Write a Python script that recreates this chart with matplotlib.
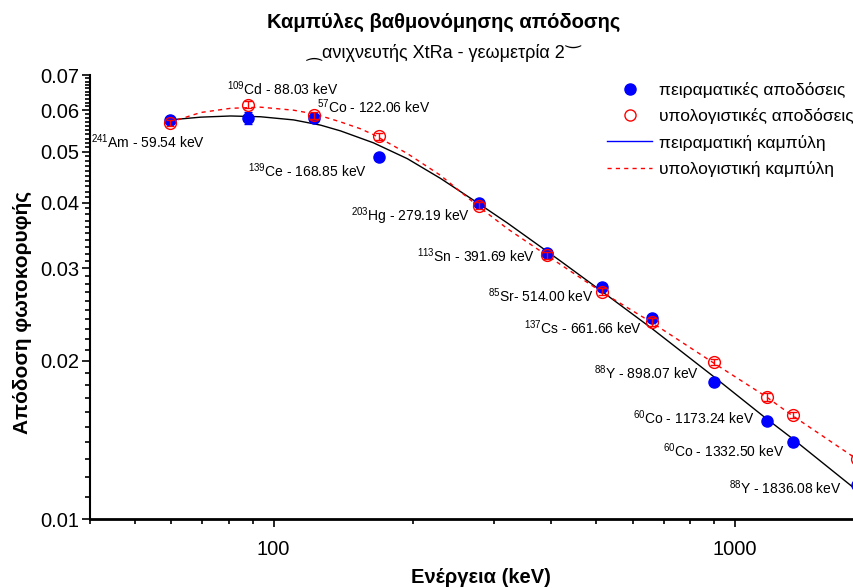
import matplotlib
matplotlib.use('Agg')
import matplotlib.pyplot as plt
import matplotlib.ticker as mticker
from matplotlib.lines import Line2D

plt.rcParams['font.family'] = ['Liberation Sans', 'DejaVu Sans']
plt.rcParams['mathtext.fontset'] = 'custom'
plt.rcParams['mathtext.rm'] = 'Liberation Sans'
plt.rcParams['mathtext.default'] = 'regular'

# energies (keV) and peak efficiencies
energy = [59.54, 88.03, 122.06, 168.85, 279.19, 391.69, 514.00, 661.66, 898.07, 1173.24, 1332.50, 1836.08]
eff_exp = [0.0575, 0.0579, 0.0581, 0.0489, 0.0399, 0.0321, 0.0276, 0.0241, 0.0182, 0.0154, 0.0140, 0.0116]
err_exp = [0.0004, 0.0015, 0.0005, 0.0004, 0.0003, 0.0003, 0.0003, 0.0002, 0.0002, 0.0002, 0.0002, 0.0002]
eff_calc = [0.0567, 0.0615, 0.0587, 0.0535, 0.0395, 0.0318, 0.0271, 0.0237, 0.0199, 0.0171, 0.0158, 0.0130]
err_calc = [0.0008, 0.0009, 0.0009, 0.0008, 0.0006, 0.0005, 0.0004, 0.0004, 0.0003, 0.0003, 0.0002, 0.0002]
isotopes = ['241', '109', '57', '139', '203', '113', '85', '137', '88', '60', '60', '88']
elements = ['Am', 'Cd', 'Co', 'Ce', 'Hg', 'Sn', 'Sr', 'Cs', 'Y', 'Co', 'Co', 'Y']
label_energy = ['59.54', '88.03', '122.06', '168.85', '279.19', '391.69', '514.00', '661.66',
                '898.07', '1173.24', '1332.50', '1836.08']
# label offsets from each point (pixels)
label_dx = [-79, -21, 3, -131, -128, -130, -114, -128, -120, -134, -130, -128]
label_dy = [-22, 30, 11, -14, -13, -3, -8, -9, 10, 3, -8, -3]

# fitted curves
curve_e_exp = [59.54, 69.5, 80.7, 93.7, 110.5, 126.4, 139.6, 164.6, 195.0, 229.9, 276.4, 321.0,
               378.5, 418.0, 512.1, 658.0, 896.3, 1161, 1335, 1800, 1836]
curve_exp = [0.0575, 0.0582, 0.0585, 0.0583, 0.0575, 0.0562, 0.0548, 0.0520, 0.0485, 0.0445, 0.0400,
             0.0366, 0.0330, 0.0310, 0.0272, 0.0231, 0.0187, 0.0156, 0.0142, 0.0115, 0.0113]
curve_e_calc = [59.54, 69.5, 80.7, 93.7, 110.5, 121.5, 130.9, 139.6, 154.3, 164.6, 195.0, 229.9,
                276.4, 321.0, 389.9, 512.1, 658.0, 891.8, 1167, 1322, 1836]
curve_calc = [0.0569, 0.0594, 0.0605, 0.0608, 0.0600, 0.0591, 0.0580, 0.0570, 0.0553, 0.0539, 0.0496,
              0.0451, 0.0395, 0.0357, 0.0318, 0.0271, 0.0237, 0.0199, 0.0171, 0.0158, 0.0130]

y_major = [0.01, 0.02, 0.03, 0.04, 0.05, 0.06, 0.07]

fig = plt.figure(figsize=(8.54, 5.88), dpi=100)
ax = fig.add_axes([0.1054, 0.1173, 0.8946, 0.7551])

ax.plot(curve_e_exp, curve_exp, color='black', lw=1, zorder=2)
ax.plot(curve_e_calc, curve_calc, color='red', lw=1, ls=(0, (3, 3)), zorder=2)
ax.errorbar(energy, eff_exp, yerr=err_exp, fmt='o', color='blue', ms=8, capsize=3,
            elinewidth=1, zorder=3)
ax.errorbar(energy, eff_calc, yerr=err_calc, fmt='o', mfc='none', mec='red', ecolor='red',
            ms=8.5, mew=1, capsize=3, elinewidth=1, zorder=4)

for e, v, iso, el, le, dx, dy in zip(energy, eff_exp, isotopes, elements, label_energy, label_dx, label_dy):
    sep = '- ' if el == 'Sr' else ' - '
    ax.annotate(r'$^{%s}$' % iso + el + sep + le + ' keV', xy=(e, v), xytext=(dx, dy),
                textcoords='offset pixels', fontsize=10, ha='left', va='center',
                annotation_clip=False)

ax.set_xscale('log')
ax.set_yscale('log')
ax.set_xlim(40, 1810)
ax.set_ylim(0.01, 0.07)

ax.xaxis.set_major_locator(mticker.FixedLocator([100, 1000]))
ax.xaxis.set_major_formatter(mticker.FixedFormatter(['100', '1000']))
ax.xaxis.set_minor_locator(mticker.LogLocator(base=10, subs=range(2, 10)))
ax.xaxis.set_minor_formatter(mticker.NullFormatter())
ax.yaxis.set_major_locator(mticker.FixedLocator(y_major))
ax.yaxis.set_major_formatter(mticker.FixedFormatter(['%g' % v for v in y_major]))
ax.yaxis.set_minor_locator(mticker.FixedLocator([i / 1000 for i in range(10, 71) if i % 10]))
ax.yaxis.set_minor_formatter(mticker.NullFormatter())

ax.tick_params(which='major', length=6, width=1.2, labelsize=14.5, direction='out')
ax.tick_params(which='minor', length=3.5, width=1.2, direction='out')
ax.tick_params(axis='x', pad=9)
ax.tick_params(axis='y', pad=2)

for s in ['top', 'right']:
    ax.spines[s].set_visible(False)
ax.spines['left'].set_linewidth(1.5)
ax.spines['bottom'].set_linewidth(2)

handles = [Line2D([], [], marker='o', ls='none', color='blue', ms=8),
           Line2D([], [], marker='o', ls='none', mfc='none', mec='red', ms=8),
           Line2D([], [], color='blue', lw=1),
           Line2D([], [], color='red', lw=1, ls=(0, (3, 3)))]
labels = ['πειραματικές αποδόσεις', 'υπολογιστικές αποδόσεις',
          'πειραματική καμπύλη', 'υπολογιστική καμπύλη']
ax.legend(handles, labels, loc='upper left', bbox_to_anchor=(0.677, 0.985), frameon=False,
          fontsize=12.5, handlelength=2.6, handletextpad=0.4, labelspacing=0.6,
          borderpad=0, borderaxespad=0)

fig.text(0.520, 0.961, 'Καμπύλες βαθμονόμησης απόδοσης', fontsize=14.5, fontweight='bold',
         ha='center', va='center')
sub = fig.text(0.519, 0.910, 'ανιχνευτής XtRa - γεωμετρία 2', fontsize=13, ha='center', va='center')

# the arcs around the subtitle
fig.canvas.draw()
bb = sub.get_window_extent()
fig.text(bb.x0 - 1, bb.y0 + bb.height * 0.5 - 8, '⁀', fontsize=13, ha='right', va='top',
         family=['DejaVu Sans'], transform=None)
fig.text(bb.x1 + 1, bb.y1 + 13, '‿', fontsize=13, ha='left', va='top',
         family=['DejaVu Sans'], transform=None)

fig.text(0.563, 0.018, 'Ενέργεια (keV)', fontsize=14.5, fontweight='bold', ha='center', va='center')
fig.text(0.026, 0.469, 'Απόδοση φωτοκορυφής', fontsize=15, fontweight='bold', ha='center',
         va='center', rotation=90)

fig.savefig('out.png', dpi=100)
